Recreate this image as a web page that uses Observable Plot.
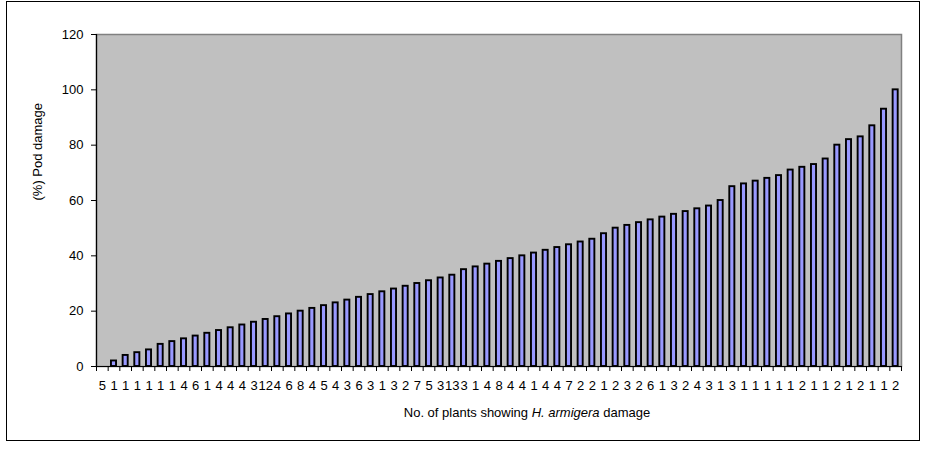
<!DOCTYPE html>
<html>
<head>
<meta charset="utf-8">
<script src="https://cdn.jsdelivr.net/npm/d3@7"></script>
<script src="https://cdn.jsdelivr.net/npm/@observablehq/plot@0.6"></script>
<style>
  html, body { margin: 0; padding: 0; background: #ffffff; }
  #wrap { position: relative; width: 927px; height: 451px; font-family: "Liberation Sans", Arial, sans-serif; }
  #border { position: absolute; left: 6px; top: 1px; width: 912px; height: 438px; border: 1px solid #000; box-sizing: content-box; }
  #chart { position: absolute; left: 0; top: 0; }
  #xtitle { position: absolute; left: 227px; width: 600px; top: 405px; text-align: center; font-size: 13px; color: #000; }
</style>
</head>
<body>
<div id="wrap">
  <div id="border"></div>
  <div id="chart"></div>
  <div id="xtitle">No. of plants showing <i>H. armigera</i> damage</div>
</div>
<script>
// Tick labels: number of plants in each damage class
const plantCounts = ["5","1","1","1","1","1","1","4","6","1","4","4","4","3","12","4","6","8","4","5","4","3","6","3","1","3","2","7","5","3","13","3","1","4","8","4","4","1","4","4","7","2","2","1","2","3","2","6","1","3","2","4","3","1","3","1","1","1","1","1","2","1","1","2","1","2","1","1","2"];
// Bar values: (%) pod damage
const podDamage = [0,2,4,5,6,8,9,10,11,12,13,14,15,16,17,18,19,20,21,22,23,24,25,26,27,28,29,30,31,32,33,35,36,37,38,39,40,41,42,43,44,45,46,48,50,51,52,53,54,55,56,57,58,60,65,66,67,68,69,71,72,73,75,80,82,83,87,93,100];
const yTicks = [0,20,40,60,80,100,120];

const n = podDamage.length;
const rows = podDamage.map((v, i) => ({i, v}));

const chart = Plot.plot({
  width: 927,
  height: 451,
  marginLeft: 96,
  marginRight: 26,
  marginTop: 34,
  marginBottom: 85,
  x: {type: "linear", domain: [0, n], axis: null},
  y: {domain: [0, 120], axis: null},
  style: {fontFamily: "'Liberation Sans', Arial, sans-serif", fontSize: "13px", color: "#000", background: "transparent"},
  marks: [
    Plot.frame({fill: "#c0c0c0", stroke: "#808080", strokeWidth: 1.5}),
    Plot.rect(rows, {x1: d => d.i, x2: d => d.i + 1, y1: 0, y2: d => d.v, insetLeft: 3.3, insetRight: 3.3, fill: "#9999ff", stroke: "#000", strokeWidth: 1.9}),
    Plot.ruleX([0], {stroke: "#000", strokeWidth: 1.2}),
    Plot.ruleY([0], {stroke: "#000", strokeWidth: 1.2}),
    Plot.axisY({ticks: yTicks, tickSize: 5, tickPadding: 8, label: null, fontSize: 13, stroke: "#000"}),
    Plot.axisX({ticks: d3.range(n + 1), tickSize: 5, tickFormat: () => "", label: null, stroke: "#000"}),
    Plot.axisX({ticks: d3.range(n).map(i => i + 0.5), tickSize: 0, tickPadding: 14, tickFormat: t => plantCounts[Math.floor(t)], label: null, fontSize: 13}),
    Plot.text(["(%) Pod damage"], {frameAnchor: "left", rotate: -90, dx: -59, fontSize: 13, fill: "#000"})
  ]
});
document.getElementById("chart").appendChild(chart);
</script>
</body>
</html>
